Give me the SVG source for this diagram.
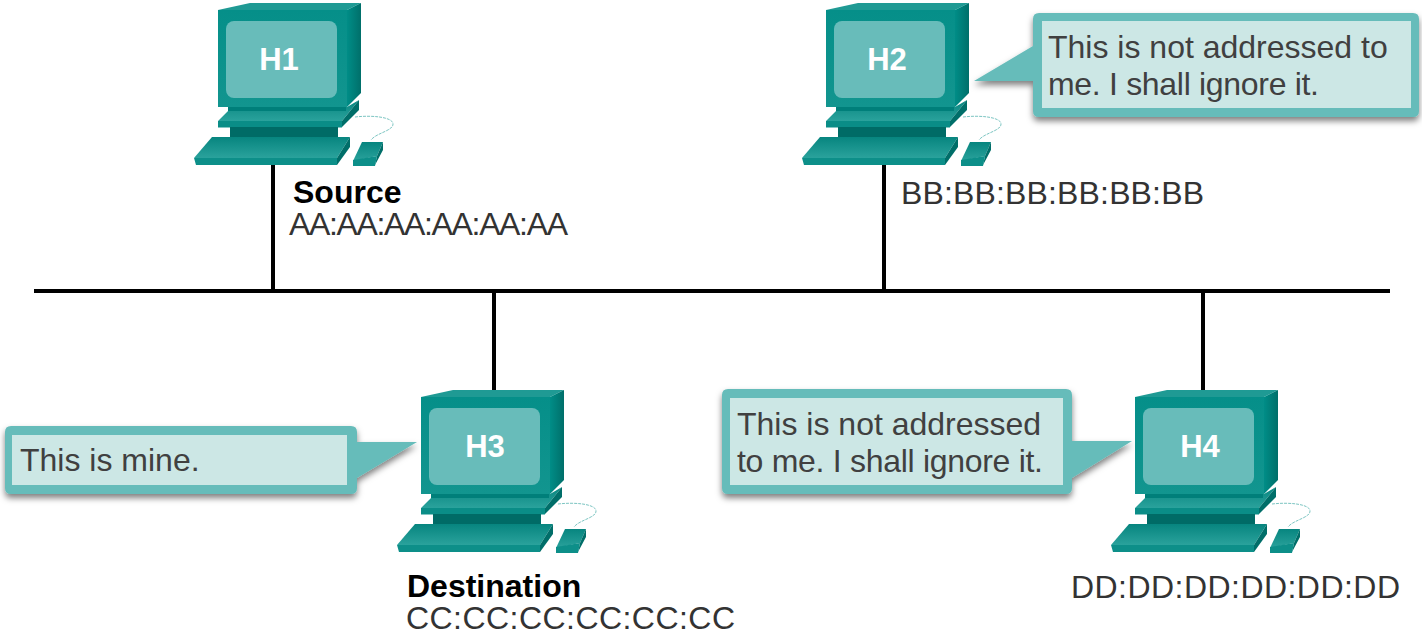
<svg xmlns="http://www.w3.org/2000/svg" width="1422" height="635" viewBox="0 0 1422 635">
<style>
text{font-family:"Liberation Sans",Arial,sans-serif}
.lbl{font-size:31px;font-weight:700;fill:#fff;text-anchor:middle}
.mac{font-size:32px;fill:#333}
.bold{font-size:32px;font-weight:700;fill:#000}
.say{font-size:32px;fill:#404040}
.outer{fill:#66bcba;filter:url(#sh)}
.inner{fill:#cce7e5}
.wire{stroke:#000;stroke-width:4;fill:none}
</style>
<defs>
<linearGradient id="kb" x1="0" y1="0" x2="0" y2="1"><stop offset="0" stop-color="#07857f"/><stop offset="1" stop-color="#2aa29c"/></linearGradient>
<linearGradient id="side" x1="0" y1="0" x2="1" y2="0"><stop offset="0" stop-color="#008d87"/><stop offset="1" stop-color="#006f6a"/></linearGradient>
<linearGradient id="front" x1="0" y1="0" x2="0" y2="1"><stop offset="0" stop-color="#058f89"/><stop offset="1" stop-color="#12958f"/></linearGradient>
<filter id="sh" x="-10%" y="-15%" width="120%" height="135%"><feDropShadow dx="0" dy="4" stdDeviation="3" flood-color="#000" flood-opacity=".5"/></filter>
<g id="pc">
<polygon points="218,10 250,3 361,3 347,10" fill="#1f9a94"/>
<polygon points="347,10 361,3 361,93 347,107" fill="url(#side)"/>
<rect x="218" y="10" width="129" height="97" fill="url(#front)"/>
<rect x="226" y="21" width="111" height="77" rx="8" fill="#68bcba"/>
<polygon points="232,107 347,107 359,100 342,121 218,121" fill="url(#kb)"/>
<rect x="228" y="107" width="118" height="4" fill="#007f7a"/>
<polygon points="342,121 359,100 359,110 342,127" fill="#006e69"/>
<rect x="218" y="121" width="124" height="6.500" fill="#0a8d87"/>
<rect x="230" y="127" width="108" height="10" fill="#006b66"/>
<polygon points="212,137 350,137 337,158 194,158" fill="url(#kb)"/>
<polygon points="337,158 350,137 350,147 337,165" fill="#006e69"/>
<polygon points="194,158 337,158 337,165 196,165" fill="#0d8f89"/>
<path d="M355,117C372,115 393,117 393,124C393,131 376,133 371,140" fill="none" stroke="#7cc5c2" stroke-width="1" stroke-dasharray="3 1"/>
<polygon points="362,142 383,142 377,156 353,161" fill="url(#kb)"/>
<polygon points="377,156 383,142 383,150 375,165" fill="#006e69"/>
<polygon points="353,160 377,156 375,166 353,166" fill="#0d8f89"/>
</g>
</defs>
<g id="connectors">
<path class="wire" d="M34,291H1390"/>
<path class="wire" d="M273,164V291"/>
<path class="wire" d="M884,164V291"/>
<path class="wire" d="M494,291V392"/>
<path class="wire" d="M1203,291V392"/>
</g>
<g id="H1"><use href="#pc"/><text class="lbl" x="279" y="70">H1</text>
<text class="bold" x="293" y="203">Source</text><text class="mac" x="289" y="235" textLength="279">AA:AA:AA:AA:AA:AA</text></g>
<g id="H2"><use href="#pc" x="608"/><text class="lbl" x="887" y="70">H2</text>
<text class="mac" x="901" y="204" textLength="303">BB:BB:BB:BB:BB:BB</text></g>
<g id="H3"><use href="#pc" x="203" y="387"/><text class="lbl" x="485" y="457">H3</text>
<text class="bold" x="407" y="597">Destination</text><text class="mac" x="406" y="629" textLength="329">CC:CC:CC:CC:CC:CC</text></g>
<g id="H4"><use href="#pc" x="917" y="387"/><text class="lbl" x="1200" y="457">H4</text>
<text class="mac" x="1071" y="598" textLength="329">DD:DD:DD:DD:DD:DD</text></g>
<g id="callout-H2"><path class="outer" d="M1039,13H1413Q1419,13 1419,19V111Q1419,117 1413,117H1039Q1033,117 1033,111V81L974,81L1033,46V19Q1033,13 1039,13Z"/>
<rect class="inner" x="1042" y="21" width="369" height="87"/>
<text class="say" x="1048" y="58">This is not addressed to</text><text class="say" x="1048" y="95" textLength="271">me. I shall ignore it.</text></g>
<g id="callout-H3"><path class="outer" d="M11,426H351Q357,426 357,432V442L417,442L357,478V488Q357,494 351,494H11Q5,494 5,488V432Q5,426 11,426Z"/>
<rect class="inner" x="12" y="435" width="335" height="50"/>
<text class="say" x="20" y="471">This is mine.</text></g>
<g id="callout-H4"><path class="outer" d="M728,389H1066Q1072,389 1072,395V441L1132,441L1072,478V488Q1072,494 1066,494H728Q722,494 722,488V395Q722,389 728,389Z"/>
<rect class="inner" x="730" y="398" width="333" height="87"/>
<text class="say" x="737" y="435">This is not addressed</text><text class="say" x="737" y="472" textLength="306">to me. I shall ignore it.</text></g>
</svg>
